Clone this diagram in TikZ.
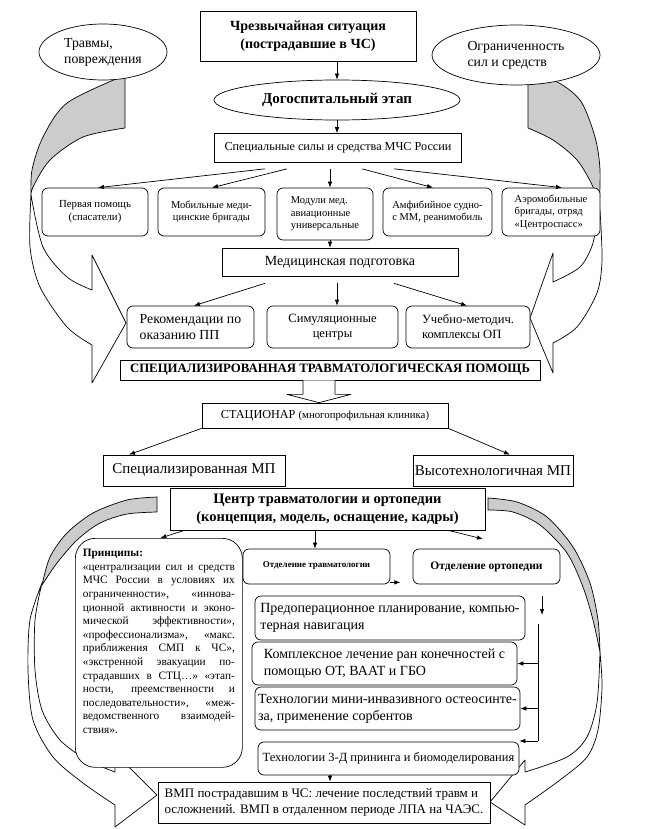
\documentclass[tikz,border=0pt]{standalone}
\usepackage{fontspec}
\setmainfont{Liberation Serif}
\usetikzlibrary{shapes.geometric,arrows.meta}
\newcommand\fsz[2]{\fontsize{#1}{#2}\selectfont}
\tikzset{
 box/.style={draw, fill=white, rectangle, line width=0.7pt, inner sep=2pt, align=center},
 rbox/.style={box, rounded corners=6pt},
 ell/.style={draw, fill=white, ellipse, line width=0.7pt, inner sep=1pt, align=left},
 arr/.style={-{Latex[length=6pt,width=4.5pt]}, line width=0.7pt},
 ribw/.style={draw, fill=white, line width=0.7pt, line join=round},
 ribg/.style={draw, fill=black!20, line width=0.7pt, line join=round},
}
\begin{document}
\begin{tikzpicture}[x=1pt,y=-1pt]
\useasboundingbox (0,0) rectangle (646,829);
% ---------- ribbons (big curved arrows) ----------
% top left
\filldraw[ribg] (125,76) -- (125,128) -- plot[smooth] coordinates {(125,128) (83,137) (50,160) (33,187) (31,197)} -- plot[smooth] coordinates {(31,197) (32,170) (43,137) (67,103) (123,76)} -- cycle;
\filldraw[ribw] plot[smooth] coordinates {(31,195) (30,247) (40,287) (67,327) (92,345)} -- (92,383) -- (126,323) -- (92,255) -- (92,290) -- plot[smooth] coordinates {(92,290) (67,277) (43,247) (31,195)} -- cycle;
% top right
\filldraw[ribg] (528,80) -- (528,128) -- plot[smooth] coordinates {(528,128) (553,140) (577,160) (593,187) (599,212)} -- plot[smooth] coordinates {(599,212) (600,170) (595,137) (580,100) (553,80) (528,80)} -- cycle;
\filldraw[ribw] plot[smooth] coordinates {(600,210) (602,260) (597,293) (577,327) (553,343)} -- (553,373) -- (530,318) -- (553,253) -- (553,282) -- plot[smooth] coordinates {(553,282) (580,267) (593,243) (598,210)} -- cycle;
% bottom left
\filldraw[ribg] (157,497) -- (157,512) -- plot[smooth] coordinates {(157,512) (127,514) (100,523) (77,540) (57,563) (42,585)} -- plot[smooth] coordinates {(42,585) (50,557) (67,533) (93,513) (127,500) (157,497)} -- cycle;
\filldraw[ribw] plot[smooth] coordinates {(42,583) (30,620) (28,670) (33,720) (53,757) (83,783) (115,805)} -- (115,827) -- (157,795) -- (115,753) -- (115,772) -- plot[smooth] coordinates {(115,772) (87,760) (60,740) (42,710) (35,670) (35,620) (42,583)} -- cycle;
% bottom right
\filldraw[ribg] (488,498) -- (488,510) -- plot[smooth] coordinates {(488,510) (513,512) (540,525) (567,553) (583,587) (593,620) (600,652)} -- plot[smooth] coordinates {(600,652) (598,620) (590,583) (573,547) (547,517) (517,502) (488,498)} -- cycle;
\filldraw[ribw] plot[smooth] coordinates {(600,652) (602,687) (598,730) (587,757) (560,780) (525,805)} -- (525,825) -- (490,802) -- (525,760) -- (525,772) -- plot[smooth] coordinates {(525,772) (567,757) (587,737) (597,703) (600,652)} -- cycle;
% ---------- top part ----------
\node[box, minimum width=216, minimum height=50, font=\bfseries\fsz{14}{18}] (title) at (308,36) {Чрезвычайная ситуация\\(пострадавшие в ЧС)};
\node[ell, minimum width=128, minimum height=56, font=\fsz{13.8}{16}] (trav) at (103,52) {Травмы,\\повреждения};
\node[ell, minimum width=168, minimum height=60, font=\fsz{13.8}{16}] (ogr) at (516,55) {Ограниченность\\сил и средств};
\node[ell, minimum width=246, minimum height=40, font=\bfseries\fsz{15}{18}] (dogo) at (337,100) {Догоспитальный этап};
\node[box, minimum width=247, minimum height=29, font=\fsz{12.2}{15}] (spec) at (338,148) {Специальные силы и средства МЧС России};
\node[rbox, minimum width=106, minimum height=48, font=\fsz{10.8}{12.8}] (b1) at (95,212) {Первая помощь\\(спасатели)};
\node[rbox, minimum width=107, minimum height=48, font=\fsz{10.5}{12.5}] (b2) at (211.5,212) {Мобильные меди-\\цинские бригады};
\node[rbox, minimum width=96, minimum height=52, align=left, font=\fsz{10.5}{12.5}] (b3) at (325,214) {Модули мед.\\авиационные\\универсальные};
\node[rbox, minimum width=109, minimum height=48, align=left, font=\fsz{10.5}{12.5}] (b4) at (437.5,212) {Амфибийное судно-\\с ММ, реанимобиль};
\node[rbox, minimum width=98, minimum height=48, align=left, font=\fsz{10.5}{12.5}] (b5) at (551,212) {Аэромобильные\\бригады, отряд\\«Центроспасс»};
\node[box, minimum width=236, minimum height=28, font=\fsz{14}{16}] (med) at (340,262) {Медицинская подготовка};
\node[rbox, minimum width=127, minimum height=42, align=left, font=\fsz{13.8}{16}] (r1) at (190.5,327) {Рекомендации по\\оказанию ПП};
\node[rbox, minimum width=131, minimum height=42, font=\fsz{12.6}{15}] (r2) at (332.5,327) {Симуляционные\\центры};
\node[rbox, minimum width=124, minimum height=42, align=left, font=\fsz{12.6}{15}] (r3) at (468,327) {Учебно-методич.\\комплексы ОП};
\node[box, minimum width=420, minimum height=20, inner sep=1pt, font=\bfseries\fsz{12.8}{14}] (spta) at (330,370) {СПЕЦИАЛИЗИРОВАННАЯ ТРАВМАТОЛОГИЧЕСКАЯ ПОМОЩЬ};
\node[box, minimum width=246, minimum height=25, inner sep=1pt] (stac) at (325,415.5) {\fsz{12.2}{13}СТАЦИОНАР \fsz{10.8}{12}(многопрофильная клиника)};
\node[box, minimum width=182, minimum height=31, font=\fsz{15}{17}] (smp) at (194,470.5) {Специализированная МП};
\node[box, minimum width=156, minimum height=31, font=\fsz{15}{17}] (vmpN) at (493,470.5) {Высотехнологичная МП};
\node[box, minimum width=315, minimum height=42, font=\bfseries\fsz{14.5}{18}] (cen) at (327.5,509) {Центр травматологии и ортопедии\\(концепция, модель, оснащение, кадры)};
% ---------- lower part ----------
\node[rbox, rounded corners=20pt, inner xsep=7.5pt, inner ysep=7pt, anchor=north west] (princ) at (75,538) {\parbox[c][215pt][t]{152pt}{\fsz{11.3}{13.6}\hyphenpenalty=10000 \exhyphenpenalty=10000 \tolerance=10000
\vspace*{4pt}\textbf{Принципы:}\\
«централизации сил и средств\linebreak
МЧС России в условиях их\linebreak
ограниченности», «иннова-\linebreak
ционной активности и эконо-\linebreak
мической эффективности»,\linebreak
«профессионализма», «макс.\linebreak
приближения СМП к ЧС»,\linebreak
«экстренной эвакуации по-\linebreak
страдавших в СТЦ…» «этап-\linebreak
ности, преемственности и\linebreak
последовательности», «меж-\linebreak
ведомственного взаимодей-\linebreak
ствия».}};
\node[rbox, minimum width=147, minimum height=35, font=\bfseries\fsz{9}{11}] (otr) at (316.5,566.5) {\raisebox{4pt}{Отделение травматологии}};
\node[rbox, minimum width=147, minimum height=35, font=\bfseries\fsz{11.5}{13}] (oor) at (486.5,566.5) {\raisebox{2pt}{Отделение ортопедии}};
\node[rbox, minimum width=270, minimum height=44, align=left, font=\fsz{14}{17}] (pre) at (390,618) {Предоперационное планирование, компью-\\терная навигация};
\node[rbox, minimum width=265, minimum height=43, align=left, font=\fsz{14}{17}] (kompl) at (384.5,663.5) {Комплексное лечение ран конечностей с\\помощью ОТ, ВААТ и ГБО};
\node[rbox, minimum width=265, minimum height=43, align=left, font=\fsz{14}{17}] (mini) at (387.5,708.5) {Технологии мини-инвазивного остеосинте-\\за, применение сорбентов};
\node[rbox, minimum width=261, minimum height=33, font=\fsz{12.5}{15}] (tech) at (388.5,758.5) {Технологии 3-Д прининга и биомоделирования};
\node[box, minimum width=332, minimum height=41, align=left, font=\fsz{13}{16}] (vmp) at (324,802.5) {ВМП пострадавшим в ЧС: лечение последствий травм и\\осложнений. ВМП в отдаленном периоде ЛПА на ЧАЭС.};
% ---------- connectors ----------
\draw[arr] (title.south -| dogo) -- (dogo.north);
\draw[arr] (dogo.south) -- (dogo.south |- spec.north);
\draw[arr] ([xshift=-73pt,yshift=-6pt]spec.south) -- ([xshift=3pt]b1.north);
\draw[arr] ([xshift=-51pt,yshift=-6pt]spec.south) -- ([xshift=0.5pt]b2.north);
\draw[arr] ([xshift=-8pt,yshift=-6pt]spec.south) -- ([xshift=5pt]b3.north);
\draw[arr] ([xshift=24pt,yshift=-6pt]spec.south) -- ([xshift=-4.5pt]b4.north);
\draw[arr] ([xshift=56pt,yshift=-6pt]spec.south) -- ([xshift=11pt]b5.north);
\draw[arr] ([xshift=5pt]b3.south) -- ([xshift=5pt]b3.south |- med.north);
\draw[arr] ([xshift=-75pt,yshift=-7pt]med.south) -- ([xshift=3.5pt]r1.north);
\draw[arr] ([xshift=-3pt,yshift=-7pt]med.south) -- ([xshift=4.5pt]r2.north);
\draw[arr] ([xshift=54pt,yshift=-7pt]med.south) -- ([xshift=-1pt]r3.north);
\filldraw[ribw] ([xshift=-27pt]spta.south) -- ([xshift=-27pt,yshift=-14pt]spta.south) -- ([xshift=-43pt,yshift=-14pt]spta.south) -- ([xshift=-6pt]stac.north) -- ([xshift=21pt,yshift=-14pt]spta.south) -- ([xshift=5pt,yshift=-14pt]spta.south) -- ([xshift=5pt]spta.south);
\draw[arr] (stac.south west) -- ([xshift=-65pt]smp.north);
\draw[arr] (stac.south east) -- ([xshift=17pt]vmpN.north);
\draw[arr] ([xshift=15pt]cen.south west) -- ([xshift=1.5pt]princ.north);
\draw[arr] ([xshift=-12.5pt]cen.south) -- ([xshift=-12.5pt]cen.south |- otr.north);
\coordinate (co) at (483,539);
\draw[arr] ([xshift=-37pt]cen.south east) -- (co);
\draw[arr] ([yshift=2pt]otr.south east) -- ++(10,0);
\coordinate (d1) at (542,596);
\coordinate (d2) at (542,615);
\draw[arr] (d1) -- (d2);
\coordinate (vt) at (538,624);
\coordinate (vb) at (538,741);
\draw[line width=0.7pt] (vt) -- (vb);
\draw[arr] (vt |- kompl.east) -- (kompl.east);
\draw[arr] (vt |- mini.east) -- (mini.east);
\draw[arr] (vb) -- (vb -| tech.east);
\draw[arr] ([xshift=-58.5pt]tech.south) -- ([xshift=-58.5pt]tech.south |- vmp.north);
\end{tikzpicture}
\end{document}
